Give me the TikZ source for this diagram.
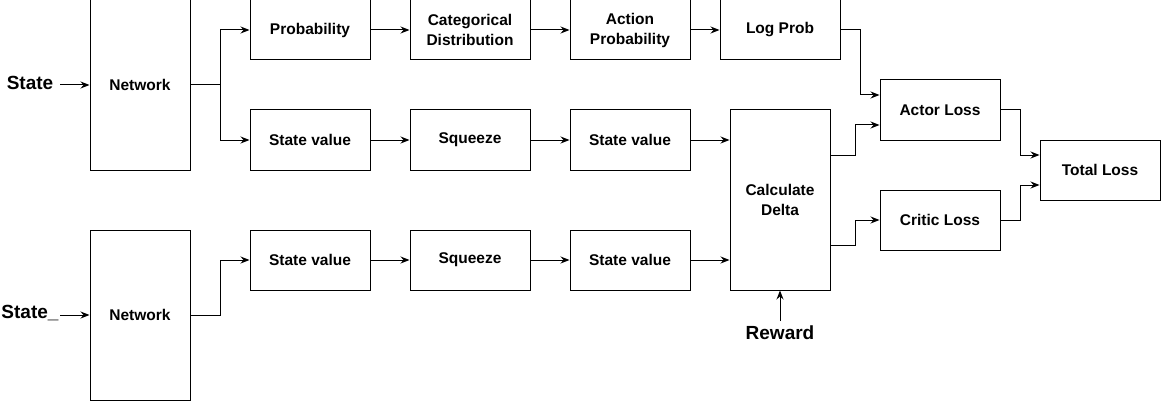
\documentclass[tikz,border=0pt]{standalone}
\usepackage{fontspec}
\setmainfont{Liberation Sans}
\usetikzlibrary{arrows.meta,positioning}
\begin{document}
\begin{tikzpicture}[x=1pt,y=-1pt,
  box/.style={draw,line width=1pt,inner sep=0pt,align=center,
    font=\fontsize{15.5}{20}\selectfont\bfseries},
  lbl/.style={inner sep=0pt,font=\fontsize{19}{22}\selectfont\bfseries},
  conn/.style={line width=1pt,-{Stealth[length=9pt,width=7pt,inset=3pt]}}]
\useasboundingbox (0,0) rectangle (1161,401);
% boxes
\node[box,minimum width=100pt,minimum height=170pt] (net1) at (140,85) {Network};
\node[box,minimum width=100pt,minimum height=170pt] (net2) at (140,315) {Network};
\node[box,minimum width=120pt,minimum height=60pt] (prob) at (310,30) {Probability};
\node[box,minimum width=120pt,minimum height=60pt] (cat) at (470,30) {Categorical\\Distribution};
\node[box,minimum width=120pt,minimum height=60pt] (act) at (630,30) {Action\\Probability};
\node[box,minimum width=120pt,minimum height=60pt] (logp) at (780,30) {Log Prob};
\node[box,minimum width=120pt,minimum height=60pt] (sv1) at (310,140) {State value};
\node[box,minimum width=120pt,minimum height=60pt] (sq1) at (470,140) {Squeeze};
\node[box,minimum width=120pt,minimum height=60pt] (svb1) at (630,140) {State value};
\node[box,minimum width=120pt,minimum height=60pt] (sv2) at (310,260) {State value};
\node[box,minimum width=120pt,minimum height=60pt] (sq2) at (470,260) {Squeeze};
\node[box,minimum width=120pt,minimum height=60pt] (svb2) at (630,260) {State value};
\node[box,minimum width=100pt,minimum height=180pt] (delta) at (780,200) {Calculate\\Delta};
\node[box,minimum width=120pt,minimum height=60pt] (actor) at (940,110) {Actor Loss};
\node[box,minimum width=120pt,minimum height=60pt] (critic) at (940,220) {Critic Loss};
\node[box,minimum width=120pt,minimum height=60pt] (total) at (1100,170) {Total Loss};
% labels
\node[lbl] (s1) at (30,83) {State};
\node[lbl] (s2) at (30,313) {State\_};
\node[lbl] (rew) at (780,333) {Reward};
\coordinate (s1e) at (60,85);
\coordinate (s2e) at (60,315);
\coordinate (rewe) at (780,321);
% connectors
\draw[conn] (s1e) -- (net1.west |- s1e);
\draw[conn] (s2e) -- (net2.west |- s2e);
\draw[conn] (net1.east) -- (220,85) |- (prob.west);
\draw[conn] (net1.east) -- (220,85) |- (sv1.west);
\draw[conn] (net2.east) -- (220,315) |- (sv2.west);
\draw[conn] (prob) -- (cat);
\draw[conn] (cat) -- (act);
\draw[conn] (act) -- (logp);
\draw[conn] (sv1) -- (sq1);
\draw[conn] (sq1) -- (svb1);
\draw[conn] (sv2) -- (sq2);
\draw[conn] (sq2) -- (svb2);
\draw[conn] (svb1.east) -- (delta.west |- svb1.east);
\draw[conn] (svb2.east) -- (delta.west |- svb2.east);
\draw[conn] (rewe) -- (delta.south);
\draw[conn] (logp.east) -- (860,30) -- (860,95) -- (actor.west |- 0,95);
\draw[conn] (delta.east |- 0,155) -- (855,155) -- (855,125) -- (actor.west |- 0,125);
\draw[conn] (delta.east |- 0,245) -- (855,245) -- (855,220) -- (critic.west);
\draw[conn] (actor.east) -- (1020,110) -- (1020,155) -- (total.west |- 0,155);
\draw[conn] (critic.east) -- (1020,220) -- (1020,185) -- (total.west |- 0,185);
\end{tikzpicture}
\end{document}
